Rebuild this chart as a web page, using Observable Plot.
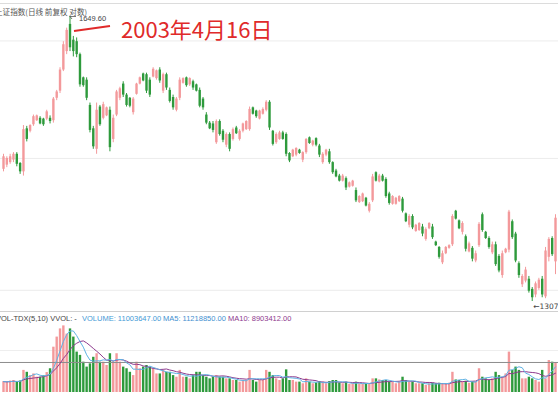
<!DOCTYPE html>
<html><head><meta charset="utf-8">
<script src="https://cdn.jsdelivr.net/npm/d3@7"></script>
<script src="https://cdn.jsdelivr.net/npm/@observablehq/plot@0.6"></script>
<style>
html,body{margin:0;padding:0;background:#fff;}
#wrap{position:relative;width:558px;height:394px;overflow:hidden;background:#fff;}
#wrap > svg{position:absolute;left:0;top:0;}
</style></head><body>
<div id="wrap"></div>
<script>
// ---- data ----
const openP = [
1456,1461,1464,1467,1474,1463,1453,1505,1502,1510,
1515,1518,1517,1517,1518,1515,1543,1552,1579,1603,
1639,1618,1616,1599,1569,1566,1534,1505,1480,1532,
1518,1521,1528,1492,1522,1543,1561,1547,1543,1525,
1548,1561,1574,1573,1566,1570,1568,1579,1552,1573,
1553,1544,1528,1543,1562,1569,1560,1564,1560,1553,
1542,1522,1512,1511,1488,1514,1502,1485,1498,1492,
1506,1492,1502,1504,1504,1531,1527,1517,1523,1528,
1538,1502,1488,1492,1500,1498,1475,1471,1473,1479,
1467,1476,1494,1485,1493,1484,1464,1473,1477,1464,
1454,1448,1442,1445,1435,1436,1431,1417,1418,1422,
1407,1419,1452,1441,1448,1444,1427,1415,1415,1418,
1421,1404,1391,1401,1384,1385,1389,1375,1387,1389,
1372,1366,1349,1359,1365,1369,1407,1396,1383,1378,
1361,1365,1351,1368,1403,1383,1376,1360,1369,1356,
1335,1360,1363,1395,1381,1348,1325,1329,1331,1320,
1314,1321,1331,1312,1355,1376,1350];
const highP = [
1474,1471,1474,1476,1476,1464,1509,1508,1510,1522,
1522,1520,1518,1528,1521,1544,1553,1582,1616,1634,
1649.6,1623,1621,1601,1570,1569,1537,1508,1537,1534,
1538,1532,1532,1522,1553,1557,1564,1549,1544,1544,
1562,1570,1575,1575,1569,1582,1579,1582,1575,1575,
1556,1547,1544,1569,1569,1570,1569,1566,1561,1556,
1544,1525,1514,1514,1516,1516,1504,1500,1500,1506,
1508,1504,1512,1515,1532,1532,1528,1528,1531,1540,
1540,1503,1500,1502,1502,1500,1476,1480,1482,1480,
1477,1493,1495,1491,1494,1486,1476,1480,1480,1465,
1456,1450,1450,1447,1441,1443,1434,1425,1428,1423,
1417,1450,1453,1450,1450,1446,1429,1425,1423,1425,
1423,1405,1403,1403,1392,1394,1392,1388,1394,1392,
1373,1367,1362,1367,1369,1403,1408,1397,1395,1380,
1372,1367,1362,1394,1405,1384,1378,1372,1372,1358,
1362,1365,1408,1397,1383,1350,1336,1344,1334,1322,
1328,1332,1334,1366,1377,1378,1403];
const lowP = [
1453,1458,1462,1464,1459,1450,1448,1489,1500,1508,
1514,1510,1508,1515,1511,1512,1540,1549,1577,1599,
1603,1596,1595,1557,1557,1540,1500,1480,1474,1508,
1516,1520,1477,1488,1520,1540,1544,1532,1531,1522,
1547,1560,1564,1549,1544,1569,1566,1562,1549,1553,
1537,1528,1526,1540,1561,1557,1558,1553,1551,1531,
1528,1510,1504,1500,1486,1496,1488,1482,1477,1490,
1498,1490,1500,1503,1502,1522,1518,1516,1522,1526,
1503,1484,1486,1491,1491,1471,1464,1470,1471,1474,
1464,1474,1486,1483,1483,1470,1462,1471,1462,1450,
1446,1441,1441,1431,1434,1435,1417,1416,1417,1412,
1405,1417,1441,1440,1441,1422,1414,1414,1414,1417,
1405,1394,1388,1386,1383,1384,1378,1373,1386,1375,
1367,1353,1347,1358,1364,1367,1397,1386,1380,1361,
1360,1350,1349,1366,1383,1375,1364,1358,1345,1338,
1332,1359,1360,1375,1349,1332,1322,1327,1316,1307,
1311,1319,1311,1310,1350,1356,1336];
const closeP = [
1471,1469,1471,1474,1462,1453,1504,1492,1509,1520,
1521,1511,1510,1526,1514,1542,1551,1579,1612,1631,
1608,1603,1599,1560,1559,1543,1503,1483,1528,1510,
1535,1531,1482,1518,1551,1555,1547,1534,1533,1542,
1561,1569,1565,1552,1547,1580,1578,1565,1573,1556,
1539,1531,1542,1566,1568,1559,1568,1556,1552,1533,
1531,1512,1505,1503,1514,1498,1491,1498,1480,1504,
1499,1502,1511,1514,1529,1523,1520,1527,1529,1538,
1506,1486,1498,1500,1492,1474,1466,1479,1481,1475,
1476,1492,1487,1490,1485,1473,1474,1479,1464,1452,
1447,1442,1448,1434,1440,1442,1419,1424,1427,1413,
1415,1447,1442,1448,1442,1424,1416,1424,1422,1424,
1407,1395,1401,1388,1391,1393,1381,1386,1393,1377,
1368,1355,1359,1366,1368,1401,1398,1387,1393,1364,
1370,1353,1359,1392,1385,1376,1366,1369,1347,1340,
1359,1364,1406,1377,1351,1335,1334,1341,1318,1311,
1326,1330,1314,1362,1375,1358,1399];
// volume, millions of shares
const volumeM = [
4.0,3.8,4.2,4.4,3.8,4.2,8.1,7.4,6.2,6.8,
5.6,5.6,6.1,7.3,8.7,16.6,20.3,23.3,24.4,21.4,
23.3,20.3,14.8,13.6,11.1,9.3,10.5,12.9,14.2,11.1,
11.1,9.9,14.2,11.1,14.2,11.1,9.3,8.7,7.4,6.2,
11.1,8.7,9.3,9.9,9.3,8.7,6.8,6.8,8.1,7.4,
7.4,6.2,5.6,8.1,5.6,5.6,5.0,6.2,7.4,7.4,
6.2,5.6,5.0,5.6,6.2,5.6,5.6,5.0,5.0,4.4,
4.4,3.8,4.4,4.4,8.1,4.4,3.8,4.4,4.4,8.1,
7.4,6.2,5.0,4.4,5.0,8.3,4.4,4.4,3.8,3.8,
3.2,5.0,3.8,3.2,3.5,4.0,3.8,3.2,4.0,4.4,
4.4,3.5,3.2,3.8,3.0,3.2,3.8,3.2,3.0,3.2,
3.2,5.0,5.0,4.6,4.4,4.4,3.8,3.8,3.2,3.8,
5.6,4.4,3.8,3.8,3.2,3.2,3.2,2.6,3.2,3.4,
3.2,3.4,3.2,3.2,3.4,7.4,4.6,4.4,3.8,4.1,
3.4,3.8,3.8,8.7,5.6,5.0,4.4,5.0,7.4,6.2,
5.6,6.8,14.8,8.1,9.3,8.1,5.0,5.0,5.6,5.0,
4.4,3.8,8.1,5.0,11.7,11.1,11.0];
const priceGrid = [1617, 1469, 1319];
const volGridFaint = [15.4];
const volGridMain = [11.0];
const titleText = "上证指数(日线 前复权 对数)";
const noteText = "2003年4月16日";
const volHeader = ["VOL-TDX(5,10) VVOL: -", "VOLUME: 11003647.00", "MA5: 11218850.00", "MA10: 8903412.00"];

// ---- build ----
const UP = "#f3999b", DOWN = "#2e9a3c";
const candles = openP.map((o, i) => ({i, open: o, high: highP[i], low: lowP[i], close: closeP[i], vol: volumeM[i]}));
const col = d => d.close >= d.open ? UP : DOWN;
const n = candles.length;
const xOpt = {domain: [0, n - 1], range: [3, 555], axis: null};
const hiIdx = d3.maxIndex(highP), loIdx = d3.minIndex(lowP);
const peak = candles[hiIdx], trough = candles[loIdx];

const price = Plot.plot({
  width: 558, height: 394, margin: 0,
  style: {background: "transparent", overflow: "visible"},
  x: xOpt,
  y: {type: "log", domain: [1307, 1649.6], range: [301, 16], axis: null},
  color: {type: "identity"},
  marks: [
    Plot.ruleY(priceGrid, {stroke: "#ececec", strokeWidth: 1}),
    Plot.ruleX(candles, {x: "i", y1: "low", y2: "high", stroke: col, strokeWidth: 1}),
    Plot.ruleX(candles, {x: "i", y1: "open", y2: "close", stroke: col, strokeWidth: 2.4}),
    Plot.text([peak], {x: "i", y: "high", text: d => d.high.toFixed(2), dx: 9, dy: 2, textAnchor: "start",
      fontSize: 7.5, fontFamily: "Liberation Sans, Arial, sans-serif", fill: "#444"}),
    Plot.text([trough], {x: "i", y: "low", text: d => "←" + d.low, dx: 1, dy: 5, textAnchor: "start",
      fontSize: 7.5, fontFamily: "DejaVu Sans, sans-serif", fill: "#444"})
  ]
});

const vol = Plot.plot({
  width: 558, height: 394, margin: 0,
  style: {background: "transparent", overflow: "visible"},
  x: xOpt,
  y: {domain: [0, 25], range: [392, 323.75], axis: null},
  color: {type: "identity"},
  marks: [
    Plot.ruleY(volGridFaint, {stroke: "#eeeeee"}),
    Plot.ruleX(candles, {x: "i", y: "vol", stroke: col, strokeWidth: 2.4}),
    Plot.ruleY(volGridMain, {stroke: "#8c8c8c", strokeWidth: 1}),
    Plot.lineY(candles, Plot.windowY({k: 10, anchor: "end"}, {x: "i", y: "vol", stroke: "#8e3a8e", strokeWidth: 1})),
    Plot.lineY(candles, Plot.windowY({k: 5, anchor: "end"}, {x: "i", y: "vol", stroke: "#5fb2e4", strokeWidth: 1}))
  ]
});

const wrap = document.getElementById("wrap");
wrap.appendChild(price);
wrap.appendChild(vol);

const ns = "http://www.w3.org/2000/svg";
const ov = document.createElementNS(ns, "svg");
ov.setAttribute("width", 558); ov.setAttribute("height", 394);
ov.innerHTML = `
<line x1="0" x2="558" y1="3.5" y2="3.5" stroke="#dcdcdc"/>
<line x1="0" x2="558" y1="311.5" y2="311.5" stroke="#d0d0d0"/>
<line x1="69.5" x2="76" y1="16.5" y2="16.5" stroke="#555" stroke-width="0.8"/>
<line x1="70" x2="72" y1="16.5" y2="19" stroke="#555" stroke-width="0.8"/>
<text x="-5" y="14.5" font-size="7.6" fill="#555" font-family="Noto Sans CJK SC">${titleText}</text>
<line x1="74" y1="31" x2="110" y2="26" stroke="#e02a2a" stroke-width="1.8"/>
<text x="121" y="38" font-size="22" fill="#e02a2a" font-family="Noto Sans CJK SC">${noteText}</text>
<text y="321" font-size="7.5" font-family="Liberation Sans, Arial, sans-serif">
  <tspan x="-4" fill="#444">${volHeader[0]}</tspan>
  <tspan x="82" fill="#3f9ad6">${volHeader[1]}</tspan>
  <tspan x="163" fill="#3f8fd0">${volHeader[2]}</tspan>
  <tspan x="228" fill="#8e3a8e">${volHeader[3]}</tspan>
</text>`;
wrap.appendChild(ov);
</script>
</body></html>
